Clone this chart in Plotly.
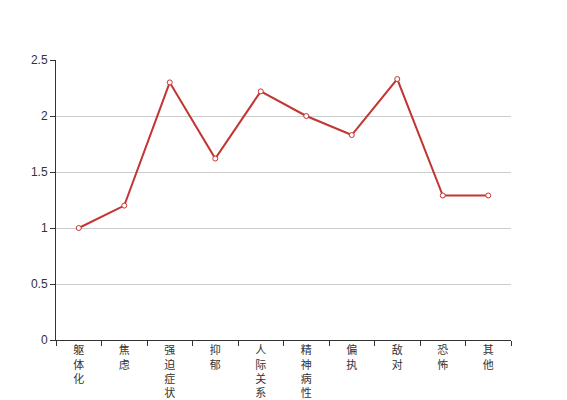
import plotly.graph_objects as go

categories = ["躯体化", "焦虑", "强迫症状", "抑郁", "人际关系敏感", "精神病性", "偏执", "敌对", "恐怖", "其他"]
values = [1.0, 1.2, 2.3, 1.62, 2.22, 2.0, 1.83, 2.33, 1.29, 1.29]

# vertical labels: one character per line
ticktext = ["<br>".join(list(c)) for c in categories]

FONT = "Liberation Sans, Noto Sans CJK SC, sans-serif"

fig = go.Figure()
fig.add_trace(go.Scatter(
    x=categories, y=values, mode="lines+markers",
    line=dict(color="#c23531", width=2),
    marker=dict(symbol="circle", size=5, color="white",
                line=dict(color="#c23531", width=1)),
    cliponaxis=False,
))

# page body has an 8px margin: offset the plot area so it lands at x 56-511, y 60-340
fig.update_layout(
    width=567, height=400,
    margin=dict(l=48, r=64, t=52, b=68),
    plot_bgcolor="white", paper_bgcolor="white",
    showlegend=False,
    font=dict(family=FONT, size=12, color="#333"),
)
fig.update_xaxes(
    type="category", tickmode="array", tickvals=categories, ticktext=ticktext,
    tickson="boundaries", ticks="outside", ticklen=5, tickcolor="#333",
    showline=True, linecolor="#333", linewidth=1, showgrid=False,
    tickfont=dict(family="Noto Sans CJK SC, sans-serif", size=11, color="#333"),
    range=[-0.5, 9.5], automargin=False,
)
fig.update_yaxes(
    range=[0, 2.5], dtick=0.5, ticks="outside", ticklen=5, tickcolor="#333",
    showline=True, linecolor="#333", linewidth=1,
    showgrid=True, gridcolor="#ccc", gridwidth=1, zeroline=False,
    tickfont=dict(family=FONT, size=12, color="#333"), automargin=False,
)
fig.write_html("out.html")
